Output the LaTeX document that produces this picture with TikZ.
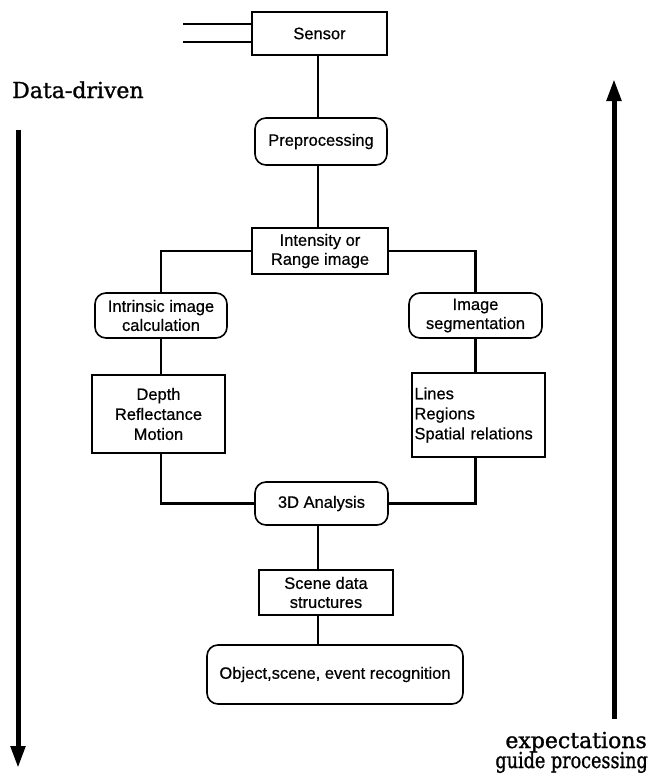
\documentclass[tikz,border=0pt]{standalone}
\usepackage{fontspec}
\setmainfont{Liberation Sans}[FakeBold=0.6]
\newfontfamily\serifdisp{DejaVu Serif}[FakeBold=1.2]
\usetikzlibrary{arrows.meta}
\begin{document}
\begin{tikzpicture}[x=1pt,y=-1pt,
  txt/.style={font=\fontsize{16.5}{19}\selectfont, align=center, inner sep=0pt},
  boxnode/.style={txt, draw, line width=1.6pt},
  roundnode/.style={txt, draw, line width=1.6pt, rounded corners=11pt},
  conn/.style={line width=2.3pt},
  bigarrow/.style={line width=5pt, -{Triangle[length=22pt,width=14pt]}},
  sidetext/.style={font=\serifdisp\fontsize{22}{23}\selectfont, inner sep=0pt}]
\useasboundingbox (0,0) rectangle (649,780);
\coordinate (axis) at (318,0);
% nodes
\node[boxnode, minimum width=135pt, minimum height=43pt] (sensor) at (319.5,33.5) {Sensor};
\node[roundnode, minimum width=132pt, minimum height=47pt] (pre) at (321,141.5) {Preprocessing};
\node[boxnode, minimum width=136pt, minimum height=46pt] (intensity) at (320,251) {Intensity or\\Range image};
\node[roundnode, minimum width=132pt, minimum height=45pt] (intrinsic) at (161,315.5) {Intrinsic image\\calculation};
\node[roundnode, minimum width=133pt, minimum height=45pt] (seg) at (475.5,315.5) {Image\\segmentation};
\node[boxnode, minimum width=133pt, minimum height=78pt, font=\fontsize{16.5}{20}\selectfont] (depth) at (158.5,414) {Depth\\Reflectance\\Motion};
\node[boxnode, minimum width=133pt, minimum height=84pt, align=left, font=\fontsize{16.5}{20}\selectfont, text width=128pt] (lines) at (478.5,415) {Lines\\Regions\\Spatial relations};
\node[roundnode, minimum width=133pt, minimum height=43pt] (analysis) at (321.5,503.5) {3D Analysis};
\node[boxnode, minimum width=134pt, minimum height=45pt] (scene) at (326,592.5) {Scene data\\structures};
\node[roundnode, minimum width=256pt, minimum height=59pt] (object) at (335,674.5) {Object,scene, event recognition};
% input lines
\coordinate (in1) at (183,24);
\coordinate (in2) at (183,42);
\draw[line width=1.6pt] (in1) -- (in1 -| sensor.west);
\draw[line width=1.6pt] (in2) -- (in2 -| sensor.west);
% connectors
\draw[conn] (sensor.south -| axis) -- (pre.north -| axis);
\draw[conn] (pre.south -| axis) -- (intensity.north -| axis);
\draw[conn] (intensity.west) -| (intrinsic.north);
\draw[conn] (intensity.east) -| (seg.north);
\draw[conn] (intrinsic.south) -- (intrinsic.south |- depth.north);
\draw[conn] (seg.south) -- (seg.south |- lines.north);
\draw[conn] (intrinsic.south |- depth.south) |- (analysis.west);
\draw[conn] (seg.south |- lines.south) |- (analysis.east);
\draw[conn] (analysis.south -| axis) -- (scene.north -| axis);
\draw[conn] (scene.south -| axis) -- (object.north -| axis);
% side arrows
\coordinate (ltop) at (18,130);
\coordinate (lbot) at (18,768);
\draw[bigarrow] (ltop) -- (lbot);
\coordinate (rbot) at (614,719);
\coordinate (rtop) at (614,79);
\draw[bigarrow] (rbot) -- (rtop);
% side texts
\node[sidetext, anchor=base west] (dd) at (12,98) {Data-driven};
\node[sidetext, anchor=base east] (exp) at (647,748) {expectations};
\node[sidetext, anchor=base east] (gp) at (648,768) {\scalebox{0.8}[1]{guide processing}};
\end{tikzpicture}
\end{document}
